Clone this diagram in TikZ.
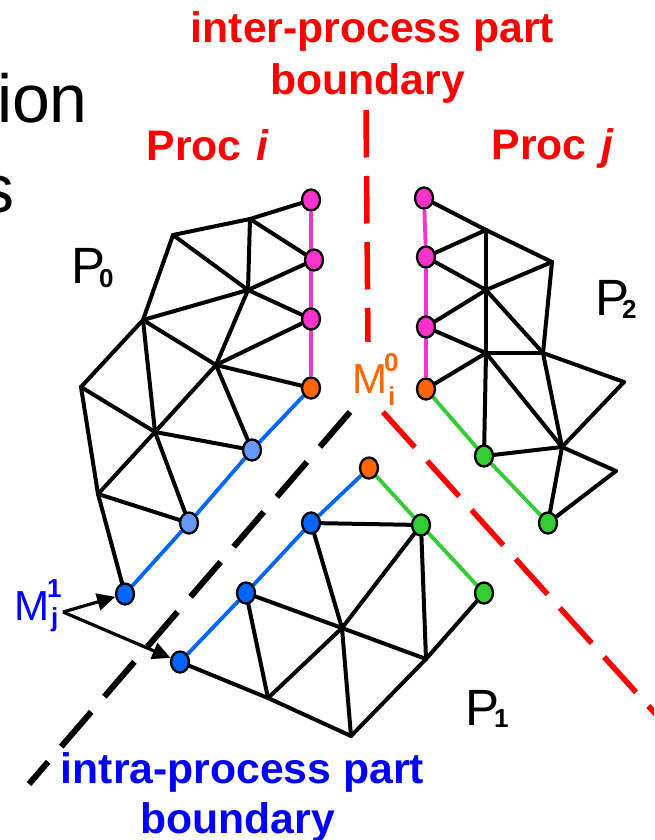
\documentclass[tikz,border=0pt]{standalone}
\usepackage{fontspec}
\setmainfont{Liberation Sans}
\usetikzlibrary{shapes.geometric,backgrounds,arrows.meta}
\definecolor{cpink}{HTML}{FF33CC}
\definecolor{corange}{HTML}{FF6600}
\definecolor{cgreen}{HTML}{33CC33}
\definecolor{cblue}{HTML}{0066FF}
\definecolor{clight}{HTML}{6699FF}
\definecolor{cdeep}{HTML}{0000FF}
\definecolor{cred}{HTML}{FF0000}
\newcommand{\fsz}[1]{\fontsize{#1}{#1}\selectfont}
\newcommand{\subfig}[1]{{\fsz{26}\bfseries #1}}
\tikzset{
  vtx/.style={ellipse,draw=black,line width=2.3pt,minimum width=18pt,minimum height=21pt,inner sep=0pt},
  pk/.style={vtx,fill=cpink},
  og/.style={vtx,fill=corange},
  gr/.style={vtx,fill=cgreen},
  bl/.style={vtx,fill=cblue},
  lb/.style={vtx,fill=clight},
  mesh/.style={line width=4pt,black,line cap=round,line join=round},
  rim/.style={line width=3.8pt},
  reddash/.style={line width=5.5pt,cred,dash pattern=on 47.5pt off 18.5pt},
  blackdash/.style={line width=6pt,black,dash pattern=on 46pt off 20pt},
  lab/.style={inner sep=0pt,anchor=base,font=\fsz{42.7}\bfseries},
  plab/.style={inner sep=0pt,anchor=base west,font=\fsz{51}},
  mlab/.style={inner sep=0pt,anchor=base west,font=\fsz{42}},
  big/.style={inner sep=0pt,anchor=base east,font=\fsz{68}},
  ptr/.style={line width=3.2pt,black,-{Triangle[length=18pt,width=17pt]}}
}
\begin{document}
\begin{tikzpicture}[x=1pt,y=-1pt]
\useasboundingbox (0,0) rectangle (654,840);
% P0 vertices
\node[pk] (a1) at (311,200) {};
\node[pk] (a2) at (314,260) {};
\node[pk] (a3) at (311,319) {};
\node[og] (a4) at (311,388) {};
\node[lb] (b1) at (252,450) {};
\node[lb] (b2) at (189,523) {};
\node[bl] (b3) at (125,594) {};
\coordinate (t1) at (173,235);
\coordinate (t2) at (250,219);
\coordinate (c1) at (248,290);
\coordinate (l1) at (143,320);
\coordinate (c2) at (216,365);
\coordinate (l2) at (81,387);
\coordinate (c3) at (155,432);
\coordinate (l3) at (98,494);
% P2 vertices
\node[pk] (d1) at (424,198) {};
\node[pk] (d2) at (426,257) {};
\node[pk] (d3) at (426,327) {};
\node[og] (d4) at (426,389) {};
\node[gr] (g1) at (484,456) {};
\node[gr] (g2) at (548,523) {};
\coordinate (e1) at (486,230);
\coordinate (e2) at (552,262);
\coordinate (e3) at (486,290);
\coordinate (e4) at (486,353);
\coordinate (e5) at (543,353);
\coordinate (e6) at (624,382);
\coordinate (e7) at (562,447);
\coordinate (e8) at (616,471);
% P1 vertices
\node[og] (h) at (369,468) {};
\node[bl] (j) at (311,523) {};
\node[gr] (k) at (421,525) {};
\node[gr] (m) at (484,593) {};
\node[bl] (q) at (246,593) {};
\node[bl] (r) at (180,662) {};
\coordinate (n) at (342,628);
\coordinate (o) at (426,659);
\coordinate (p) at (351,736);
\coordinate (s) at (268,698);
\begin{scope}[on background layer]
  \draw[rim,cpink] (a1)--(a4);
  \draw[rim,cblue] (a4)--(b1)--(b2)--(b3);
  \draw[rim,cpink] (d1)--(d2)--(d4);
  \draw[rim,cgreen] (d4)--(g1)--(g2);
  \draw[rim,cblue] (h)--(j)--(q)--(r);
  \draw[rim,cgreen] (h)--(k)--(m);
  \foreach \u/\v in {t1/t2,t2/a1,t2/a2,t2/c1,t1/c1,t1/l1,c1/a2,c1/a3,c1/l1,c1/c2,c2/a3,c2/a4,c2/l1,l1/l2,l1/c3,c2/c3,c2/b1,l2/c3,l2/l3,c3/b1,c3/l3,c3/b2,l3/b2,l3/b3,
    d1/e1,e1/e2,d2/e1,e1/e3,d2/e3,e3/e2,e2/e5,e3/d3,e3/e4,e3/e5,d3/e4,d4/e4,e4/e5,e4/g1,e4/e7,e5/e6,e5/e7,e6/e7,e7/e8,e7/g1,e7/g2,e8/g2,
    j/k,j/n,k/n,k/o,m/o,o/p,n/o,n/p,q/n,q/s,s/n,r/s,s/p}
    \draw[mesh] (\u)--(\v);
\end{scope}
% boundaries
\coordinate (rv0) at (366,110);
\coordinate (rv1) at (368,342);
\coordinate (rd0) at (383,412);
\coordinate (rd1) at (680,741);
\coordinate (bd0) at (350,412);
\coordinate (bd1) at (29,784);
\begin{scope}
  \clip (0,0) rectangle (654,840);
  \draw[reddash] (rv0)--(rv1);
  \draw[reddash] (rd0)--(rd1);
  \draw[blackdash] (bd0)--(bd1);
  \node[big] (tion) at (88,122) {tion};
  \node[big] (ess) at (15,212) {s};
  \node[lab,text=cdeep] (intra2) at (237.5,833) {boundary};
\end{scope}
% labels
\node[lab,text=cred] (inter1) at (372.5,43) {inter-process part};
\node[lab,text=cred] (inter2) at (367.5,95) {boundary};
\node[lab,text=cred] (proci) at (208,160) {Proc\kern3pt\ \textit{i}};
\node[lab,text=cred] (procj) at (553,159) {Proc\kern3pt\ \textit{j}};
\node[lab,text=cdeep] (intra1) at (242.5,783) {intra-process part};
\node[plab] (P0) at (71,283) {P\kern-6pt\raisebox{-4pt}{\subfig{0}}};
\node[plab] (P2) at (595,315) {P\kern-7pt\raisebox{-3pt}{\subfig{2}}};
\node[plab] (P1) at (465,725) {P\kern-5pt\raisebox{-2pt}{\subfig{1}}};
% M labels
\node[mlab,text=corange] (Mi) at (352,393) {M\kern-3pt\rlap{\raisebox{22pt}{\subfig{0}}}\kern4pt\raisebox{-12pt}{\subfig{i}}};
\node[mlab,text=cdeep] (Mj) at (14,620) {M\kern-2pt\rlap{\raisebox{23pt}{\subfig{1}}}\kern4pt\raisebox{-6pt}{\subfig{j}}};
\coordinate (mjo) at (63,612);
\draw[ptr] (mjo)--(b3);
\draw[ptr] (mjo)--(r);
\end{tikzpicture}
\end{document}
